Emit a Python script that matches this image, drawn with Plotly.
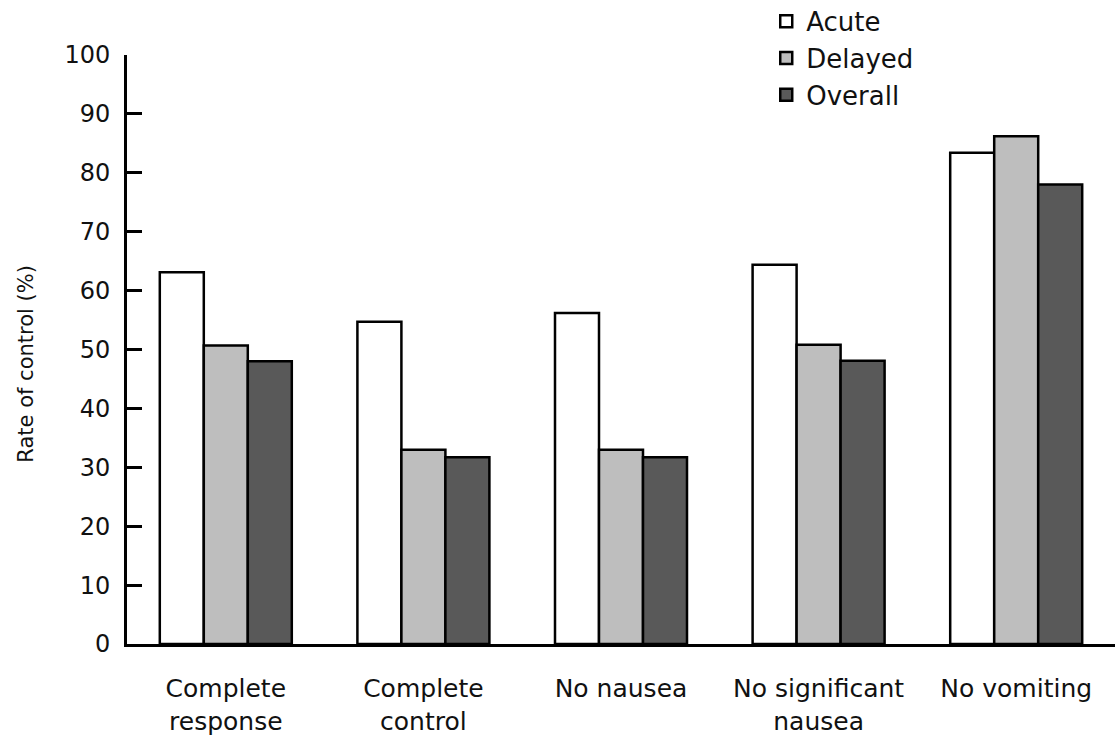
import plotly.graph_objects as go

categories = ["Complete<br>response", "Complete<br>control", "No nausea",
              "No significant<br>nausea", "No vomiting"]
acute = [63.1, 54.7, 56.2, 64.4, 83.4]
delayed = [50.7, 33.0, 33.0, 50.8, 86.2]
overall = [48.0, 31.7, 31.7, 48.1, 78.0]
series_names = ["Acute", "Delayed", "Overall"]
series_colors = ["#ffffff", "#bebebe", "#595959"]
y_title = "Rate of control (%)"

FONT = "DejaVu Sans, Liberation Sans, Arial, sans-serif"
TXT = "#111111"

fig = go.Figure()
for name, vals, col in zip(series_names, [acute, delayed, overall], series_colors):
    fig.add_trace(go.Bar(
        x=categories, y=vals, name=name, legendgroup=name,
        marker=dict(color=col, line=dict(color="#000000", width=2.5)),
    ))

fig.update_layout(
    width=1115, height=738,
    margin=dict(l=127, r=0, t=55, b=94, autoexpand=False),
    paper_bgcolor="white", plot_bgcolor="white",
    barmode="group", bargap=0.332, bargroupgap=0,
    font=dict(family=FONT, size=24, color=TXT),
    showlegend=True,
    legend=dict(
        x=0.647, xanchor="left", y=1.097, yanchor="top",
        font=dict(family=FONT, size=26, color=TXT),
        traceorder="grouped", tracegroupgap=0,
        bgcolor="rgba(0,0,0,0)", borderwidth=0,
    ),
    xaxis=dict(
        range=[-0.5, 4.5], showline=True, linecolor="#000000", linewidth=3,
        ticks="", showgrid=False, zeroline=False,
        tickfont=dict(family=FONT, size=25, color=TXT),
        ticklabelstandoff=20,
    ),
    yaxis=dict(
        range=[0, 100], tick0=0, dtick=10, showline=True,
        linecolor="#000000", linewidth=3,
        ticks="inside", ticklen=15, tickwidth=3, tickcolor="#000000",
        showgrid=False, zeroline=False,
        tickfont=dict(family=FONT, size=24, color=TXT),
        ticklabelstandoff=9,
    ),
    annotations=[dict(
        text=y_title, textangle=-90, showarrow=False,
        xref="paper", yref="paper", x=0, y=0.476,
        xanchor="center", yanchor="middle", xshift=-101,
        font=dict(family=FONT, size=21, color=TXT),
    )],
)

fig.write_html("out.html", config={"displayModeBar": False},
               post_script="document.body.style.margin='0';")
